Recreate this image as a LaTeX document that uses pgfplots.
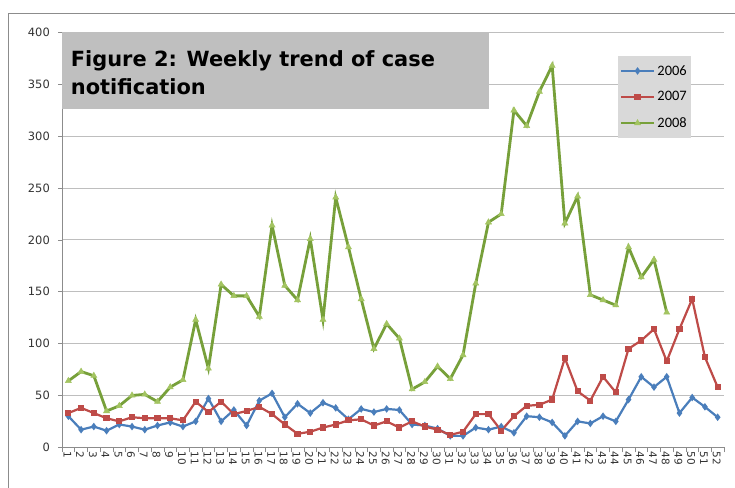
\documentclass[border=0pt]{standalone}
\usepackage{pgfplots}
\pgfplotsset{compat=1.18}
\usepackage{fontspec}
\setmainfont{DejaVu Sans}
\newfontfamily\legfont{Carlito}
\definecolor{c06}{HTML}{4A7EBB}
\definecolor{c07}{HTML}{BE4B48}
\definecolor{c08}{HTML}{77A03A}
\definecolor{m08}{HTML}{A3C461}
\definecolor{gridc}{HTML}{BEBEBE}
\definecolor{axc}{HTML}{8C8C8C}
\definecolor{titlebg}{HTML}{BFBFBF}
\definecolor{legbg}{HTML}{D9D9D9}
\begin{document}
\begin{tikzpicture}[x=1bp,y=1bp]
\useasboundingbox (0,0) rectangle (735,488);
\fill[white] (0,0) rectangle (735,488);
\draw[axc, line width=0.9bp] (8,0) -- (8,475) -- (735,475);
\begin{axis}[
  at={(62bp,40.7bp)}, anchor=south west,
  scale only axis, width=662bp, height=414.8bp,
  xmin=0.5, xmax=52.5, ymin=0, ymax=400,
  /pgf/number format/assume math mode=true,
  axis x line*=bottom, axis y line*=left,
  axis line style={axc, line width=0.8bp},
  xtick={1,...,52},
  major x tick style={draw=none},
  minor xtick={0.5,1.5,...,52.5},
  minor x tick style={axc, line width=0.6bp},
  minor tick length=5bp,
  ytick={0,50,...,400},
  major y tick style={axc, line width=0.6bp},
  major tick length=4bp,
  tick align=outside,
  ymajorgrids, grid style={gridc, line width=0.8bp},
  xticklabel style={rotate=-90, anchor=west, font=\fontsize{10.5}{10.5}\selectfont, inner sep=0pt, yshift=-1bp, text=black!80},
  yticklabel style={font=\fontsize{11.5}{11.5}\selectfont, inner sep=0pt, xshift=-8bp, text=black!80},
  legend cell align=left,
  legend style={at={(0.839,0.943)}, anchor=north west, fill=legbg, draw=none,
    font=\legfont\fontsize{14.5}{16}\selectfont, row sep=11bp, inner xsep=2bp, inner ysep=7bp,
    /tikz/every even column/.append style={column sep=0bp}},
  legend image code/.code={%
    \draw[#1, mark repeat=2, mark phase=2] plot coordinates {(0bp,0bp) (16.5bp,0bp) (33bp,0bp)};},
]
\addplot[c06, line width=2.2bp, mark=diamond*, mark size=2bp, mark options={fill=c06}] coordinates {
(1,30)(2,17)(3,20)(4,16)(5,22)(6,20)(7,17)(8,21)(9,24)(10,20)
(11,25)(12,47)(13,25)(14,36)(15,21)(16,45)(17,52)(18,29)(19,42)(20,33)
(21,43)(22,38)(23,27)(24,37)(25,34)(26,37)(27,36)(28,22)(29,21)(30,18)
(31,11)(32,11)(33,19)(34,17)(35,20)(36,14)(37,30)(38,29)(39,24)(40,11)
(41,25)(42,23)(43,30)(44,25)(45,46)(46,68)(47,58)(48,68)(49,33)(50,48)
(51,39)(52,29)};
\addlegendentry{2006}
\addplot[c07, line width=2.2bp, mark=square*, mark size=2bp, mark options={fill=c07}] coordinates {
(1,33)(2,38)(3,33)(4,28)(5,25)(6,29)(7,28)(8,28)(9,28)(10,26)
(11,44)(12,34)(13,44)(14,32)(15,35)(16,39)(17,32)(18,22)(19,13)(20,15)
(21,19)(22,22)(23,26)(24,27)(25,21)(26,25)(27,19)(28,25)(29,20)(30,17)
(31,12)(32,15)(33,32)(34,32)(35,16)(36,30)(37,40)(38,41)(39,46)(40,86)
(41,54)(42,45)(43,68)(44,53)(45,95)(46,103)(47,114)(48,83)(49,114)(50,143)
(51,87)(52,58)};
\addlegendentry{2007}
\addplot[c08, line width=2.8bp, mark=triangle*, mark size=3.5bp, mark options={fill=m08, draw=m08, line width=0.5bp}] coordinates {
(1,64)(2,73)(3,69)(4,35)(5,40)(6,50)(7,51)(8,44)(9,58)(10,65)
(11,123)(12,76)(13,157)(14,146)(15,146)(16,126)(17,214)(18,156)(19,142)(20,201)
(21,123)(22,241)(23,193)(24,143)(25,95)(26,119)(27,105)(28,56)(29,63)(30,78)
(31,66)(32,89)(33,158)(34,217)(35,225)(36,325)(37,310)(38,343)(39,368)(40,216)
(41,242)(42,147)(43,142)(44,137)(45,193)(46,164)(47,181)(48,130)};
\addlegendentry{2008}
\end{axis}
\fill[titlebg] (61.7,378.7) rectangle (489,455.5);
\node[anchor=base west, inner sep=0pt, font=\bfseries\fontsize{21}{21}\selectfont] at (70.7,421.3) {Figure 2: Weekly trend of case};
\node[anchor=base west, inner sep=0pt, font=\bfseries\fontsize{21}{21}\selectfont] at (70.7,393) {notification};
\end{tikzpicture}
\end{document}
